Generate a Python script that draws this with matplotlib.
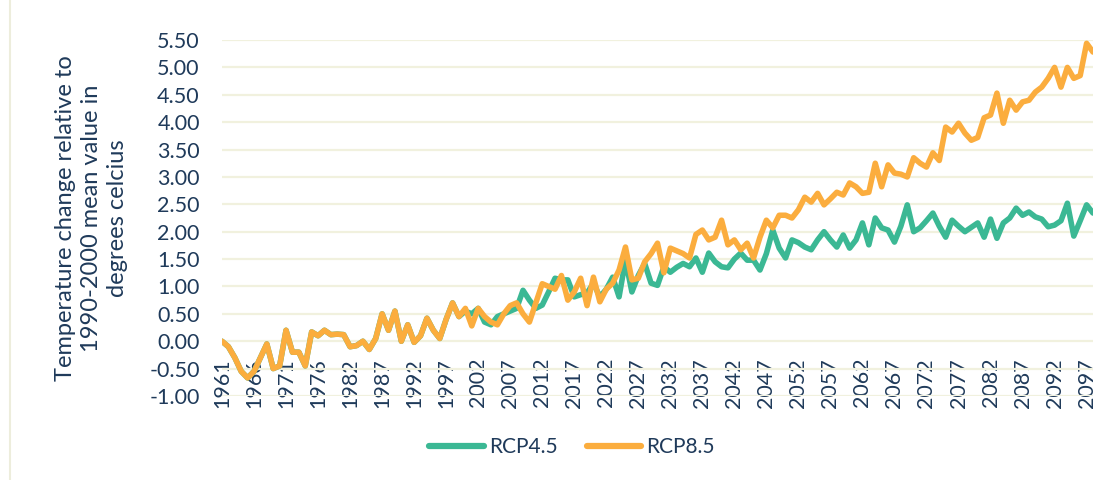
import matplotlib
matplotlib.use("Agg")
import matplotlib.pyplot as plt
from matplotlib.lines import Line2D

# Category labels (years); 1981 absent in the source series
years = list(range(1961, 1981)) + list(range(1982, 2099))

rcp85 = [0.0, -0.1, -0.3, -0.55, -0.67, -0.55, -0.3, -0.05, -0.5, -0.45,
         0.2, -0.2, -0.2, -0.45, 0.17, 0.1, 0.2, 0.12, 0.13, 0.12,
         -0.1, -0.08, 0.0, -0.15, 0.05, 0.5, 0.2, 0.55, 0.0, 0.3,
         -0.02, 0.1, 0.42, 0.2, 0.05, 0.4, 0.7, 0.45, 0.6, 0.28,
         0.6, 0.45, 0.35, 0.3, 0.5, 0.65, 0.7, 0.5, 0.35, 0.7,
         1.05, 1.0, 0.95, 1.2, 0.75, 0.9, 1.15, 0.65, 1.17, 0.72,
         0.95, 1.06, 1.3, 1.72, 1.12, 1.15, 1.45, 1.6, 1.79, 1.25,
         1.7, 1.65, 1.6, 1.52, 1.95, 2.03, 1.85, 1.9, 2.21, 1.76,
         1.85, 1.67, 1.79, 1.52, 1.9, 2.21, 2.07, 2.3, 2.3, 2.25,
         2.4, 2.63, 2.54, 2.7, 2.49, 2.6, 2.72, 2.67, 2.89, 2.82,
         2.7, 2.72, 3.25, 2.82, 3.22, 3.07, 3.05, 3.0, 3.35, 3.25,
         3.18, 3.44, 3.3, 3.91, 3.82, 3.98, 3.8, 3.67, 3.72, 4.08,
         4.13, 4.53, 3.98, 4.4, 4.22, 4.37, 4.4, 4.55, 4.64, 4.8,
         5.0, 4.64, 5.0, 4.8, 4.85, 5.44, 5.28]

rcp45 = rcp85[:38] + [
         0.55, 0.5,
         0.6, 0.35, 0.3, 0.45, 0.5, 0.55, 0.6, 0.93, 0.75, 0.6,
         0.66, 0.9, 1.15, 1.12, 1.12, 0.81, 0.85, 0.88, 1.06, 0.81,
         0.95, 1.17, 0.81, 1.48, 0.9, 1.2, 1.42, 1.06, 1.02, 1.36,
         1.26, 1.35, 1.42, 1.36, 1.52, 1.26, 1.61, 1.45, 1.36, 1.34,
         1.5, 1.61, 1.48, 1.48, 1.3, 1.6, 2.03, 1.7, 1.52, 1.85,
         1.8, 1.72, 1.67, 1.85, 2.0, 1.85, 1.72, 1.94, 1.7, 1.85,
         2.16, 1.76, 2.25, 2.07, 2.03, 1.81, 2.1, 2.49, 2.0, 2.07,
         2.2, 2.34, 2.1, 1.9, 2.21, 2.1, 2.0, 2.08, 2.16, 1.9,
         2.23, 1.88, 2.16, 2.25, 2.43, 2.3, 2.36, 2.27, 2.23, 2.09,
         2.12, 2.2, 2.52, 1.92, 2.2, 2.49, 2.34]

series_names = ["RCP4.5", "RCP8.5"]
yticks = [-1.0, -0.5, 0.0, 0.5, 1.0, 1.5, 2.0, 2.5, 3.0, 3.5, 4.0, 4.5, 5.0, 5.5]
ylabel = "Temperature change relative to\n1990-2000 mean value in\ndegrees celcius"

GREEN = "#3BB894"
ORANGE = "#FBAD3E"
TEXT = "#1F3A5A"
GRID = "#F1F1DE"

plt.rcParams["font.family"] = ["Lato", "DejaVu Sans"]

fig = plt.figure(figsize=(11.14, 4.80), dpi=100)
ax = fig.add_axes([222 / 1114, 1 - 396 / 480, (1093 - 222) / 1114, 356 / 480])

for s in ax.spines.values():
    s.set_visible(False)
ax.spines["bottom"].set_position(("data", 0))

x = list(range(len(years)))
ax.plot(x, rcp45, color=GREEN, lw=4.0, solid_joinstyle="round", solid_capstyle="round", zorder=3)
ax.plot(x, rcp85, color=ORANGE, lw=4.0, solid_joinstyle="round", solid_capstyle="round", zorder=4)

ax.set_xlim(0, len(years) - 1)
ax.set_ylim(-1.0, 5.5)
ax.set_yticks(yticks)
ax.set_yticklabels([f"{v:.2f}" for v in yticks])
ax.grid(axis="y", color=GRID, lw=1.6, zorder=0)
ax.set_axisbelow(True)

tick_idx = list(range(0, len(years), 5))
ax.set_xticks(tick_idx)
ax.set_xticklabels([str(years[i]) for i in tick_idx], rotation=90, va="top", ha="center")

ax.tick_params(axis="y", length=0, pad=16, labelsize=15.5, labelcolor=TEXT)
ax.tick_params(axis="x", length=0, pad=12, labelsize=15.5, labelcolor=TEXT)

ax.set_ylabel(ylabel, fontsize=17, color=TEXT, linespacing=1.3)
ax.yaxis.label.set_verticalalignment("center")
ax.yaxis.set_label_coords(-0.150, 0.5)

handles = [Line2D([0], [0], color=GREEN, lw=4.5, solid_capstyle="round"),
           Line2D([0], [0], color=ORANGE, lw=4.5, solid_capstyle="round")]
fig.legend(handles, series_names, loc="center", bbox_to_anchor=(572 / 1114, 1 - 447 / 480),
           ncol=2, frameon=False, fontsize=15, labelcolor=TEXT, handlelength=2.6,
           handletextpad=0.25, columnspacing=1.4)

fig.add_artist(Line2D([10 / 1114, 10 / 1114], [0, 1], color="#EDEDDC", lw=1.5))

fig.savefig("out.png", dpi=100)
